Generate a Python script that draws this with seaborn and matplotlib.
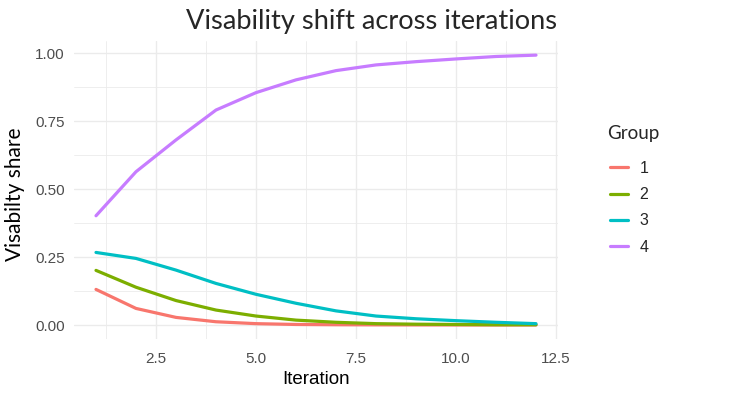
import numpy as np
import pandas as pd
import matplotlib
matplotlib.use("Agg")
import matplotlib.pyplot as plt
from matplotlib.ticker import FixedLocator
import seaborn as sns

iterations = [1, 2, 3, 4, 5, 6, 7, 8, 9, 10, 11, 12]
group1 = [0.131, 0.061, 0.028, 0.012, 0.005, 0.002, 0.001, 0.0005, 0.0003, 0.0002, 0.0001, 0.0001]
group2 = [0.201, 0.139, 0.090, 0.055, 0.033, 0.018, 0.010, 0.005, 0.003, 0.002, 0.001, 0.001]
group3 = [0.267, 0.245, 0.202, 0.153, 0.113, 0.080, 0.052, 0.033, 0.023, 0.016, 0.010, 0.005]
group4 = [0.402, 0.564, 0.681, 0.791, 0.855, 0.902, 0.936, 0.957, 0.969, 0.979, 0.988, 0.993]
group_names = ["1", "2", "3", "4"]
palette = ["#F8766D", "#7CAE00", "#00BFC4", "#C77CFF"]
x_ticks = [2.5, 5.0, 7.5, 10.0, 12.5]
x_ticklabels = ["2.5", "5.0", "7.5", "10.0", "12.5"]
y_ticks = [0.0, 0.25, 0.5, 0.75, 1.0]
y_ticklabels = ["0.00", "0.25", "0.50", "0.75", "1.00"]

df = pd.DataFrame({
    "Iteration": iterations * 4,
    "share": group1 + group2 + group3 + group4,
    "Group": sum([[g] * len(iterations) for g in group_names], []),
})

sns.set_style("white")
plt.rcParams["font.family"] = ["Liberation Sans", "DejaVu Sans"]

fig = plt.figure(figsize=(7.31, 3.98), dpi=100)
ax = fig.add_axes([74 / 731, 1 - 338.6 / 398, (558 - 74) / 731, (338.6 - 41) / 398])

sns.lineplot(data=df, x="Iteration", y="share", hue="Group", palette=palette,
             hue_order=group_names, linewidth=2.3, ax=ax, legend=True)

ax.set_xlim(0.45, 12.55)
ax.set_ylim(-0.05, 1.045)
ax.set_xticks(x_ticks)
ax.set_xticklabels(x_ticklabels)
ax.set_yticks(y_ticks)
ax.set_yticklabels(y_ticklabels)
ax.xaxis.set_minor_locator(FixedLocator([1.25, 3.75, 6.25, 8.75, 11.25]))
ax.yaxis.set_minor_locator(FixedLocator([0.125, 0.375, 0.625, 0.875]))
ax.grid(which="major", color="#EBEBEB", linewidth=1.0)
ax.grid(which="minor", color="#EBEBEB", linewidth=0.6)
ax.set_axisbelow(True)
for s in ax.spines.values():
    s.set_visible(False)
ax.tick_params(axis="both", which="both", length=0, labelsize=11, labelcolor="#4D4D4D")
ax.tick_params(axis="x", pad=9.5)
ax.tick_params(axis="y", pad=6.5)

ax.set_xlabel("Iteration", fontsize=13.5, color="black")
ax.set_ylabel("Visabilty share", fontsize=15, color="black", family=["Lato", "DejaVu Sans"])
ax.xaxis.set_label_coords(0.5, -0.1075)
ax.yaxis.set_label_coords(-0.101, 0.485)

fig.text(372 / 731, 1 - 21 / 398, "Visability shift across iterations",
         family=["Lato", "DejaVu Sans"], fontsize=19.6, ha="center", va="center")

fig.text(607 / 731, 1 - 134 / 398, "Group", family=["Lato", "DejaVu Sans"],
         fontsize=13.5, ha="left", va="center")

handles, labels = ax.get_legend_handles_labels()
leg = ax.legend(handles, labels, loc="upper left",
                bbox_to_anchor=(602 / 731, 1 - 153 / 398), bbox_transform=fig.transFigure,
                frameon=False, borderpad=0, fontsize=11.5, handlelength=1.15,
                handletextpad=0.7, labelspacing=0.7)
for line in leg.get_lines():
    line.set_linewidth(2.3)

fig.savefig("out.png", dpi=100)
